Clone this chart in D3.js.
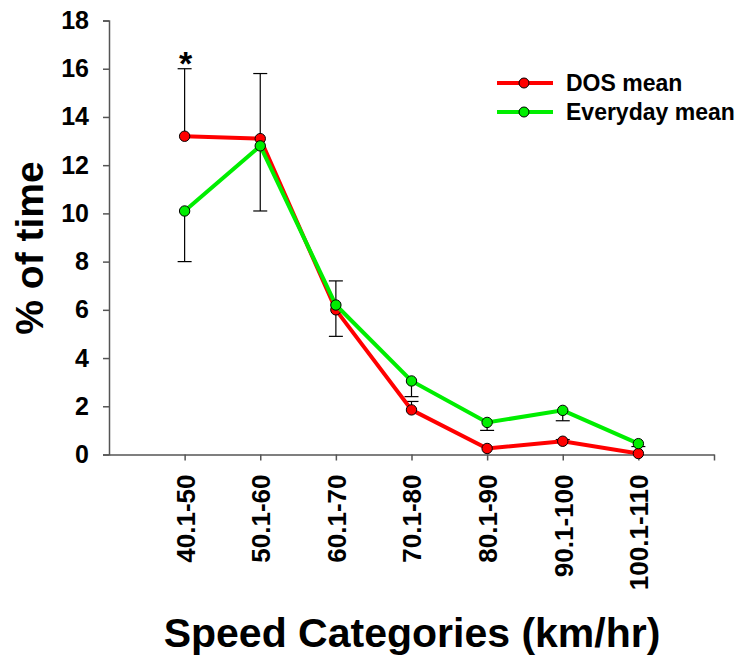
<!DOCTYPE html>
<html>
<head>
<meta charset="utf-8">
<script src="https://cdn.jsdelivr.net/npm/d3@7"></script>
<style>
  html, body { margin: 0; padding: 0; background: #fff; }
  text { font-family: "Liberation Sans", Arial, sans-serif; font-weight: bold; fill: #000; }
</style>
</head>
<body>
<svg id="chart" width="740" height="658"></svg>
<script>
const categories = ["40.1-50", "50.1-60", "60.1-70", "70.1-80", "80.1-90", "90.1-100", "100.1-110"];
const dosMean = [13.2, 13.1, 6.0, 1.85, 0.25, 0.55, 0.04];
const everydayMean = [10.1, 12.8, 6.2, 3.05, 1.33, 1.83, 0.45];
const dosErr = [2.8, 2.7, 1.2, 0.35, 0, 0.07, 0];
const everydayErr = [2.1, 2.7, 1.3, 0.65, 0.33, 0.43, 0.12];
const yTicks = [0, 2, 4, 6, 8, 10, 12, 14, 16, 18];
const seriesNames = ["DOS mean", "Everyday mean"];
const seriesColors = ["#ff0000", "#00ee00"];

const svg = d3.select("#chart");
const x = d3.scaleLinear().domain([0, 8]).range([109, 714]);
const y = d3.scaleLinear().domain([0, 18]).range([454.5, 20.5]);
const axisColor = "#555";

// Y axis
const yAxis = svg.append("g").attr("transform", "translate(109,0)")
  .call(d3.axisLeft(y).tickValues(yTicks).tickSize(6).tickPadding(14).tickFormat(d3.format("d")));
yAxis.select(".domain").attr("stroke", axisColor).attr("stroke-width", 1.5);
yAxis.selectAll(".tick line").attr("stroke", axisColor).attr("stroke-width", 1.5);
yAxis.selectAll(".tick text").style("font-size", "25px").style("font-family", "'Liberation Sans', Arial, sans-serif").style("font-weight", "bold").attr("fill", "#000");

// X axis
const xAxis = svg.append("g").attr("transform", "translate(0,454.5)")
  .call(d3.axisBottom(x).tickValues([1, 2, 3, 4, 5, 6, 7, 8]).tickSize(6).tickSizeOuter(0)
    .tickFormat((d) => categories[d - 1] || ""));
xAxis.select(".domain").attr("stroke", axisColor).attr("stroke-width", 1.5);
xAxis.selectAll(".tick line").attr("stroke", axisColor).attr("stroke-width", 1.5);
xAxis.selectAll(".tick text")
  .style("font-size", "26px").style("font-family", "'Liberation Sans', Arial, sans-serif").style("font-weight", "bold")
  .attr("fill", "#000")
  .attr("text-anchor", "end")
  .attr("transform", "rotate(-90)")
  .attr("x", -20).attr("y", 0).attr("dy", "0.36em");

// Error bars
const capW = 7;
function errBar(xi, y0, y1) {
  const g = svg.append("g").attr("stroke", "#000").attr("stroke-width", 1.2);
  g.append("line").attr("x1", x(xi)).attr("x2", x(xi)).attr("y1", y(y0)).attr("y2", y(y1));
  g.append("line").attr("x1", x(xi) - capW).attr("x2", x(xi) + capW).attr("y1", y(y1)).attr("y2", y(y1));
}
categories.forEach((c, i) => {
  if (dosErr[i] > 0) errBar(i + 1, dosMean[i], dosMean[i] + dosErr[i]);
  if (everydayErr[i] > 0) errBar(i + 1, everydayMean[i], everydayMean[i] - everydayErr[i]);
});

// Lines and markers
const line = d3.line().x((d, i) => x(i + 1)).y((d) => y(d));
[dosMean, everydayMean].forEach((vals, s) => {
  svg.append("path").datum(vals).attr("d", line)
    .attr("fill", "none").attr("stroke", seriesColors[s]).attr("stroke-width", 4);
  svg.append("g").selectAll("circle").data(vals).join("circle")
    .attr("cx", (d, i) => x(i + 1)).attr("cy", (d) => y(d)).attr("r", 5.2)
    .attr("fill", seriesColors[s]).attr("stroke", "#000").attr("stroke-width", 1);
});

// Significance star
svg.append("text").attr("x", x(1) + 1).attr("y", 75).attr("text-anchor", "middle")
  .style("font-size", "34px").text("*");

// Legend
seriesNames.forEach((name, s) => {
  const ly = 83 + s * 29;
  svg.append("line").attr("x1", 497).attr("x2", 553).attr("y1", ly).attr("y2", ly)
    .attr("stroke", seriesColors[s]).attr("stroke-width", 4);
  svg.append("circle").attr("cx", 524).attr("cy", ly).attr("r", 5)
    .attr("fill", seriesColors[s]).attr("stroke", "#000").attr("stroke-width", 1);
  svg.append("text").attr("x", 566).attr("y", ly).attr("dy", "0.35em")
    .style("font-size", "23px").text(name);
});

// Axis titles
svg.append("text").attr("transform", "translate(43,248) rotate(-90)").attr("text-anchor", "middle")
  .style("font-size", "39px").text("% of time");
svg.append("text").attr("x", 412).attr("y", 647).attr("text-anchor", "middle")
  .style("font-size", "41px").text("Speed Categories (km/hr)");
</script>
</body>
</html>
